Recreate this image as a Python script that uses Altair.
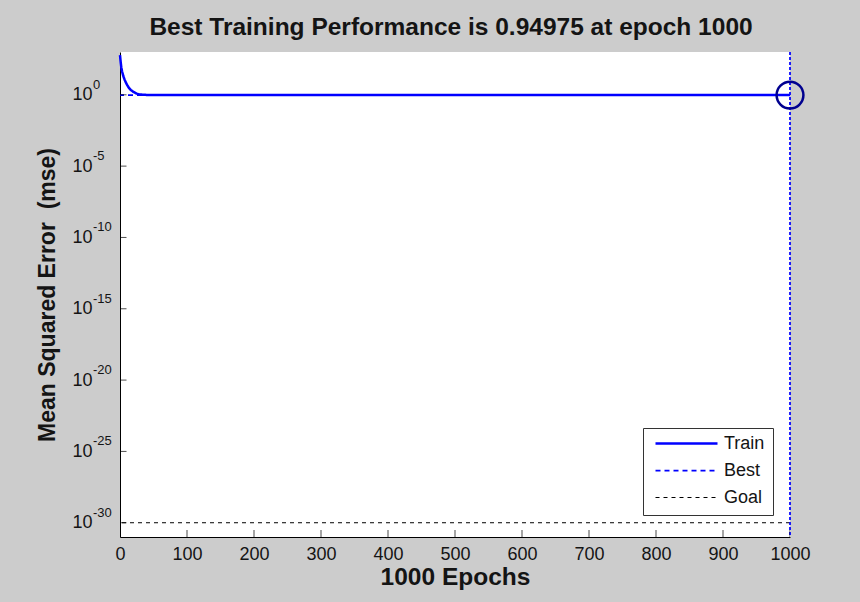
import altair as alt
import pandas as pd

# Training record (epoch, mean squared error)
epochs = [0, 1, 2, 3, 5, 7, 10, 13, 16, 20, 25, 30, 40, 60, 100, 200, 400, 700, 1000]
mse = [600, 200, 80, 45, 20, 11, 5.5, 3.2, 2.2, 1.6, 1.2, 1.05, 0.98, 0.965, 0.96,
       0.956, 0.953, 0.951, 0.94975]

best_epoch = 1000
best_perf = 0.94975
goal = 1e-30

series_names = ["Train", "Best", "Goal"]
series_colors = ["#0000ff", "#0000ff", "#000000"]
series_dash = [[1, 0], [5, 4], [4, 4]]
series_width = [2.5, 1, 1]

x_ticks = list(range(0, 1001, 100))
y_ticks = [1e0, 1e-5, 1e-10, 1e-15, 1e-20, 1e-25, 1e-30]
y_exponents = ["0", "-5", "-10", "-15", "-20", "-25", "-30"]

FONT = "Liberation Sans"
INK = "#141414"

x_scale = alt.Scale(domain=[0, 1000], nice=False, zero=False)
y_scale = alt.Scale(type="log", domain=[1e-31, 1e3], nice=False)

color_scale = alt.Scale(domain=series_names, range=series_colors)
dash_scale = alt.Scale(domain=series_names, range=series_dash)
width_scale = alt.Scale(domain=series_names, range=series_width)

legend = alt.Legend(
    title=None, orient="none", legendX=523, legendY=376, direction="vertical",
    fillColor="white", strokeColor="#333333", padding=8, rowPadding=8,
    clipHeight=15, symbolType="stroke", symbolSize=3844, symbolOffset=3,
    labelOffset=5, labelFont=FONT, labelFontSize=18, labelColor=INK,
)

series_enc = dict(
    color=alt.Color("series:N", scale=color_scale, legend=legend),
    strokeDash=alt.StrokeDash("series:N", scale=dash_scale, legend=legend),
    strokeWidth=alt.StrokeWidth("series:N", scale=width_scale, legend=legend),
)

train_df = pd.DataFrame({"epoch": epochs, "mse": mse, "series": "Train"})
best_h_df = pd.DataFrame({"mse": [best_perf], "series": ["Best"]})
best_v_df = pd.DataFrame({"epoch": [best_epoch], "series": ["Best"]})
goal_df = pd.DataFrame({"mse": [goal], "series": ["Goal"]})
best_pt_df = pd.DataFrame({"epoch": [best_epoch], "mse": [best_perf]})
xt_df = pd.DataFrame({"epoch": x_ticks})
yt_df = pd.DataFrame({"mse": y_ticks, "exp": y_exponents})

x_axis = alt.Axis(
    values=x_ticks, format="d", ticks=False, grid=False, labelFont=FONT, labelFontSize=18,
    labelColor=INK, labelPadding=8, labelFlush=False, domainColor="#000000",
    title="1000 Epochs", titleFont=FONT, titleFontSize=24.5, titleFontWeight="bold",
    titleColor=INK, titlePadding=2,
)
y_axis = alt.Axis(
    values=y_ticks, labelExpr="'10'", ticks=False, grid=False, labelFont=FONT,
    labelFontSize=18, labelColor=INK, labelPadding=28, domainColor="#000000",
    title="Mean Squared Error\u00a0 (mse)", titleFont=FONT, titleFontSize=23,
    titleFontWeight="bold", titleColor=INK, titlePadding=12,
)

goal_line = alt.Chart(goal_df).mark_rule().encode(
    y=alt.Y("mse:Q", scale=y_scale, axis=y_axis), **series_enc
)
best_h = alt.Chart(best_h_df).mark_rule().encode(
    y=alt.Y("mse:Q", scale=y_scale), **series_enc
)
# vertical marker at the best epoch, drawn with a finer dash
best_v = alt.Chart(best_v_df).mark_rule().encode(
    x=alt.X("epoch:Q", scale=x_scale, axis=x_axis),
    color=alt.Color("series:N", scale=color_scale, legend=legend),
    strokeWidth=alt.StrokeWidth("series:N", scale=width_scale, legend=legend),
    strokeDash=alt.value([3, 2]),
)
train = alt.Chart(train_df).mark_line().encode(
    x=alt.X("epoch:Q", scale=x_scale),
    y=alt.Y("mse:Q", scale=y_scale),
    **series_enc,
)
best_pt = alt.Chart(best_pt_df).mark_point(
    shape="circle", size=720, filled=False, strokeWidth=2.5, color="#00008f", opacity=1
).encode(x=alt.X("epoch:Q", scale=x_scale), y=alt.Y("mse:Q", scale=y_scale))

# inward tick marks (the outer half is clipped away by the plot area)
x_tick_marks = alt.Chart(xt_df).mark_tick(
    orient="vertical", size=14, thickness=1, color="#000000", clip=True
).encode(x=alt.X("epoch:Q", scale=x_scale), y=alt.datum(1e-31, scale=y_scale))
y_tick_marks = alt.Chart(yt_df).mark_tick(
    orient="horizontal", size=13, thickness=1, color="#000000", clip=True
).encode(x=alt.datum(0, scale=x_scale), y=alt.Y("mse:Q", scale=y_scale))

# superscript exponents of the log-axis labels
y_exp = alt.Chart(yt_df).mark_text(
    align="left", baseline="middle", dx=-27, dy=-10, font=FONT, fontSize=13, color=INK
).encode(x=alt.datum(0, scale=x_scale), y=alt.Y("mse:Q", scale=y_scale), text="exp:N")

chart = alt.layer(
    goal_line, best_h, best_v, train, best_pt, x_tick_marks, y_tick_marks, y_exp
).properties(
    width=670,
    height=485,
    title=alt.TitleParams(
        "Best Training Performance is 0.94975 at epoch 1000",
        font=FONT, fontSize=24.5, fontWeight="bold", color=INK, anchor="middle",
        offset=10, dx=-4,
    ),
    background="#cccccc",
    padding={"left": 120, "top": 52, "right": 70, "bottom": 65},
    autosize=alt.AutoSizeParams(type="none"),
).configure_view(fill="white", stroke=None)

chart.save("out.html", embed_options={"renderer": "svg", "actions": False})
